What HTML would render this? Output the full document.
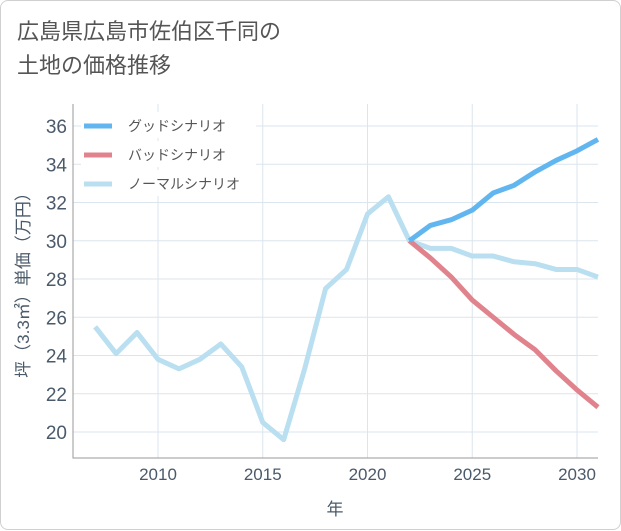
<!DOCTYPE html>
<html><head><meta charset="utf-8"><style>
html,body{margin:0;padding:0;background:#fff;}
body{width:621px;height:530px;overflow:hidden;font-family:"Liberation Sans","Noto Sans CJK JP",sans-serif;}
.card{position:absolute;left:0;top:0;width:619px;height:528px;border:1px solid #d0d0d0;border-radius:8px;background:#fff;}
.title{position:absolute;left:16px;top:14px;font-size:22px;line-height:34px;color:#555;}
</style></head><body>
<div class="card">
<div class="title">広島県広島市佐伯区千同の<br>土地の価格推移</div>
<svg id="chart" width="621" height="530" style="position:absolute;left:0;top:0"></svg>
</div>
<script>
const years=[2007,2008,2009,2010,2011,2012,2013,2014,2015,2016,2017,2018,2019,2020,2021,2022,2023,2024,2025,2026,2027,2028,2029,2030,2031];
const normal=[25.5,24.1,25.2,23.8,23.3,23.8,24.6,23.4,20.5,19.6,23.3,27.5,28.5,31.4,32.3,30.0,29.6,29.6,29.2,29.2,28.9,28.8,28.5,28.5,28.1];
const futureYears=[2022,2023,2024,2025,2026,2027,2028,2029,2030,2031];
const good=[30.0,30.8,31.1,31.6,32.5,32.9,33.6,34.2,34.7,35.3];
const bad=[30.0,29.1,28.1,26.9,26.0,25.1,24.3,23.2,22.2,21.3];
const yTicks=[20,22,24,26,28,30,32,34,36];
const xTicks=[2010,2015,2020,2025,2030];
const NS="http://www.w3.org/2000/svg";
const svg=document.getElementById('chart');
const L=72,R=597,T=103,B=457;
const x=v=>157+(v-2010)*(576-157)/20;
const y=v=>431-(v-20)*(431-125)/16;
function el(t,a,p){const e=document.createElementNS(NS,t);for(const k in a)e.setAttribute(k,a[k]);(p||svg).appendChild(e);return e;}
const grid=el('g',{});


yTicks.forEach(v=>{const l=el('line',{x1:L,x2:R,y1:y(v),y2:y(v),stroke:'#dbe5ee','stroke-width':1},grid);


const t=el('text',{x:L-6,y:y(v)+7,'text-anchor':'end','font-size':19,fill:'#4a5a6a'});t.textContent=v;

});
xTicks.forEach(v=>{const l=el('line',{x1:x(v),x2:x(v),y1:T,y2:B,stroke:'#dbe5ee','stroke-width':1},grid);


const t=el('text',{x:x(v),y:B+22,'text-anchor':'middle','font-size':17,fill:'#4a5a6a'});t.textContent=v;

});
const frame=el('path',{d:`M${L},${T}V${B}H${R}`,fill:'none',stroke:'#999','stroke-width':1});


function line(xs,vs,c,name){const p=el('polyline',{points:xs.map((d,i)=>x(d)+','+y(vs[i])).join(' '),fill:'none',stroke:c,'stroke-width':5,'stroke-linejoin':'round'});

}
line(years,normal,'#b9dff0','normal-scenario-line');
line(futureYears,bad,'#e0838c','bad-scenario-line');
line(futureYears,good,'#62b6ef','good-scenario-line');
const legend=[['グッドシナリオ','#62b6ef'],['バッドシナリオ','#e0838c'],['ノーマルシナリオ','#b9dff0']];
legend.forEach((d,i)=>{const yy=125+i*29;
const g=el('g',{});


el('rect',{x:80,y:yy-14,width:175,height:26,fill:'#fff'},g);
el('line',{x1:83,x2:111,y1:yy,y2:yy,stroke:d[1],'stroke-width':5},g);
const t=el('text',{x:127,y:yy+5,'font-size':14,fill:'#555'},g);t.textContent=d[0];});
const xt=el('text',{x:334,y:514,'text-anchor':'middle','font-size':17,fill:'#4a5a6a'});xt.textContent='年';


const yt=el('text',{x:0,y:0,'text-anchor':'middle','font-size':17,fill:'#4a5a6a',transform:`translate(28,${(T+B)/2}) rotate(-90)`});yt.textContent='坪（3.3㎡）単価（万円）';


</script>
</body></html>
